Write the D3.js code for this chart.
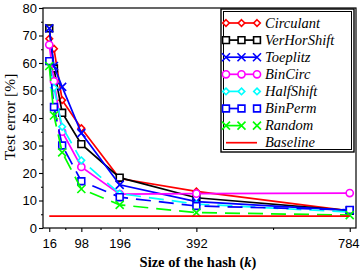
<!DOCTYPE html>
<html lang="en">
<head>
<meta charset="UTF-8">
<title>Test error vs hash size</title>
<script src="https://d3js.org/d3.v7.min.js"></script>
<style>
    body { margin: 0; background: #fff; }
    svg { display: block; }
    .tick text { font-family: "Liberation Sans", Arial, sans-serif; font-size: 13px; }
</style>
</head>
<body>
<svg id="chart" width="360" height="272"></svg>
<script>
    // hash sizes (k) and test errors [%]
    const hashSizes = [16, 28, 49, 98, 196, 392, 784];
    const circulant   = [68.8, 65.2, 46.5, 36.3, 18.0, 13.3, 6.2];
    const verHorShift = [72.6, 58.0, 41.9, 30.5, 18.3, 11.0, 6.3];
    const toeplitz    = [72.6, 58.9, 51.3, 34.5, 15.7, 9.6, 6.4];
    const binCirc     = [66.6, 53.4, 35.0, 22.2, 12.3, 12.5, 12.7];
    const halfShift   = [60.0, 51.0, 36.8, 24.6, 12.5, 8.7, 5.8];
    const binPerm     = [60.7, 44.0, 30.0, 17.0, 11.2, 8.0, 6.6];
    const random      = [58.9, 40.9, 27.5, 14.2, 8.4, 5.6, 4.7];
    const baseline    = 4.3;

    const xTicks = [16, 98, 196, 392, 784];
    const xMinorTicks = [57, 147, 294, 588];
    const yTicks = [0, 10, 20, 30, 40, 50, 60, 70, 80];

    const series = [
        {name: "Circulant",   values: circulant,   color: "#ff0000", marker: "diamond", dashed: false},
        {name: "VerHorShift", values: verHorShift, color: "#000000", marker: "square",  dashed: false},
        {name: "Toeplitz",    values: toeplitz,    color: "#0000ff", marker: "cross",   dashed: false},
        {name: "BinCirc",     values: binCirc,     color: "#ff00ff", marker: "circle",  dashed: false},
        {name: "HalfShift",   values: halfShift,   color: "#00ffff", marker: "diamond", dashed: true},
        {name: "BinPerm",     values: binPerm,     color: "#0000ff", marker: "square",  dashed: true},
        {name: "Random",      values: random,      color: "#00ff00", marker: "cross",   dashed: true}
    ];

    const svg = d3.select("#chart");
    const plotL = 43, plotR = 356, plotT = 8, plotB = 228;

    const x = d3.scaleLinear().domain([0, 800]).range([plotL, plotR]);
    const y = d3.scaleLinear().domain([0, 80]).range([plotB, plotT]);

    // frame
    svg.append("rect")
        .attr("x", plotL).attr("y", plotT)
        .attr("width", plotR - plotL).attr("height", plotB - plotT)
        .attr("fill", "none").attr("stroke", "#000").attr("stroke-width", 1.2);

    // axes
    const xAxisG = svg.append("g")
        .attr("transform", `translate(0,${plotB})`)
        .call(d3.axisBottom(x).tickValues(xTicks).tickSize(4).tickPadding(7));
    // keep the last label inside the window
    xAxisG.selectAll(".tick text").filter(d => d === 784).attr("dx", -1.5);
    svg.append("g")
        .attr("transform", `translate(0,${plotB})`)
        .call(d3.axisBottom(x).tickValues(xMinorTicks).tickSize(2).tickFormat(""));
    svg.append("g")
        .attr("transform", `translate(${plotL},0)`)
        .call(d3.axisLeft(y).tickValues(yTicks).tickSize(4).tickPadding(2));
    svg.append("g")
        .attr("transform", `translate(${plotL},0)`)
        .call(d3.axisLeft(y).tickValues(yTicks.slice(1).map(d => d - 5)).tickSize(2).tickFormat(""));
    svg.selectAll(".domain").remove();
    svg.selectAll(".tick line").attr("stroke-width", 1.1);
    svg.selectAll(".tick text").attr("fill", "#000");

    function markerPath(type) {
        switch (type) {
            case "diamond": return "M0,-3.3L3.3,0L0,3.3L-3.3,0Z";
            case "square": return "M-3.4,-3.4H3.4V3.4H-3.4Z";
            case "cross": return "M-4,-4L4,4M-4,4L4,-4";
            default: return d3.symbol().type(d3.symbolCircle).size(40)();
        }
    }

    const line = d3.line()
        .x((d, i) => x(hashSizes[i]))
        .y(d => y(d));

    series.forEach(s => {
        const g = svg.append("g");
        g.append("path")
            .attr("d", line(s.values))
            .attr("fill", "none")
            .attr("stroke", s.color)
            .attr("stroke-width", 1.7)
            .attr("stroke-dasharray", s.dashed ? "15,8" : null);
        g.selectAll("path.mk")
            .data(s.values)
            .enter().append("path")
            .attr("class", "mk")
            .attr("transform", (d, i) => `translate(${x(hashSizes[i])},${y(d)})`)
            .attr("d", markerPath(s.marker))
            .attr("fill", s.marker === "cross" ? "none" : "#fff")
            .attr("stroke", s.color)
            .attr("stroke-width", 1.6);
    });

    svg.append("line")
        .attr("x1", x(hashSizes[0])).attr("x2", x(hashSizes[hashSizes.length - 1]))
        .attr("y1", y(baseline)).attr("y2", y(baseline))
        .attr("stroke", "#ff0000").attr("stroke-width", 1.7);

    // legend
    const lg = svg.append("g");
    lg.append("rect").attr("x", 221).attr("y", 9).attr("width", 133).attr("height", 143)
        .attr("fill", "#fff").attr("stroke", "#000").attr("stroke-width", 1.4);
    lg.append("rect").attr("x", 223.5).attr("y", 11.5).attr("width", 128).attr("height", 138)
        .attr("fill", "none").attr("stroke", "#000").attr("stroke-width", 1);

    const legendItems = series.concat([{name: "Baseline", color: "#ff0000", marker: null, dashed: false}]);
    const markerXs = [226, 241.5, 257];
    legendItems.forEach((s, i) => {
        const ly = 23 + i * 17.1;
        lg.append("line")
            .attr("x1", 226).attr("x2", s.dashed ? 241.5 : 257)
            .attr("y1", ly).attr("y2", ly)
            .attr("stroke", s.color).attr("stroke-width", 1.7);
        if (s.marker) {
            markerXs.forEach(mx => {
                lg.append("path")
                    .attr("transform", `translate(${mx},${ly})`)
                    .attr("d", markerPath(s.marker))
                    .attr("fill", s.marker === "cross" ? "none" : "#fff")
                    .attr("stroke", s.color).attr("stroke-width", 1.6);
            });
        }
        lg.append("text")
            .attr("x", 265).attr("y", ly + 4.5)
            .attr("font-family", "'Liberation Serif', 'DejaVu Serif', serif")
            .attr("font-style", "italic")
            .attr("font-size", "14.5px")
            .text(s.name);
    });

    // axis titles
    svg.append("text")
        .attr("transform", "translate(15,117) rotate(-90)")
        .attr("text-anchor", "middle")
        .attr("font-family", "'Liberation Serif', serif")
        .attr("font-size", "15.5px")
        .text("Test error [%]");

    const xt = svg.append("text")
        .attr("x", 198).attr("y", 267)
        .attr("text-anchor", "middle")
        .attr("font-family", "'Liberation Serif', serif")
        .attr("font-weight", "bold")
        .attr("font-size", "14.5px");
    xt.append("tspan").text("Size of the hash (");
    xt.append("tspan").attr("font-style", "italic").text("k");
    xt.append("tspan").text(")");
</script>
</body>
</html>
